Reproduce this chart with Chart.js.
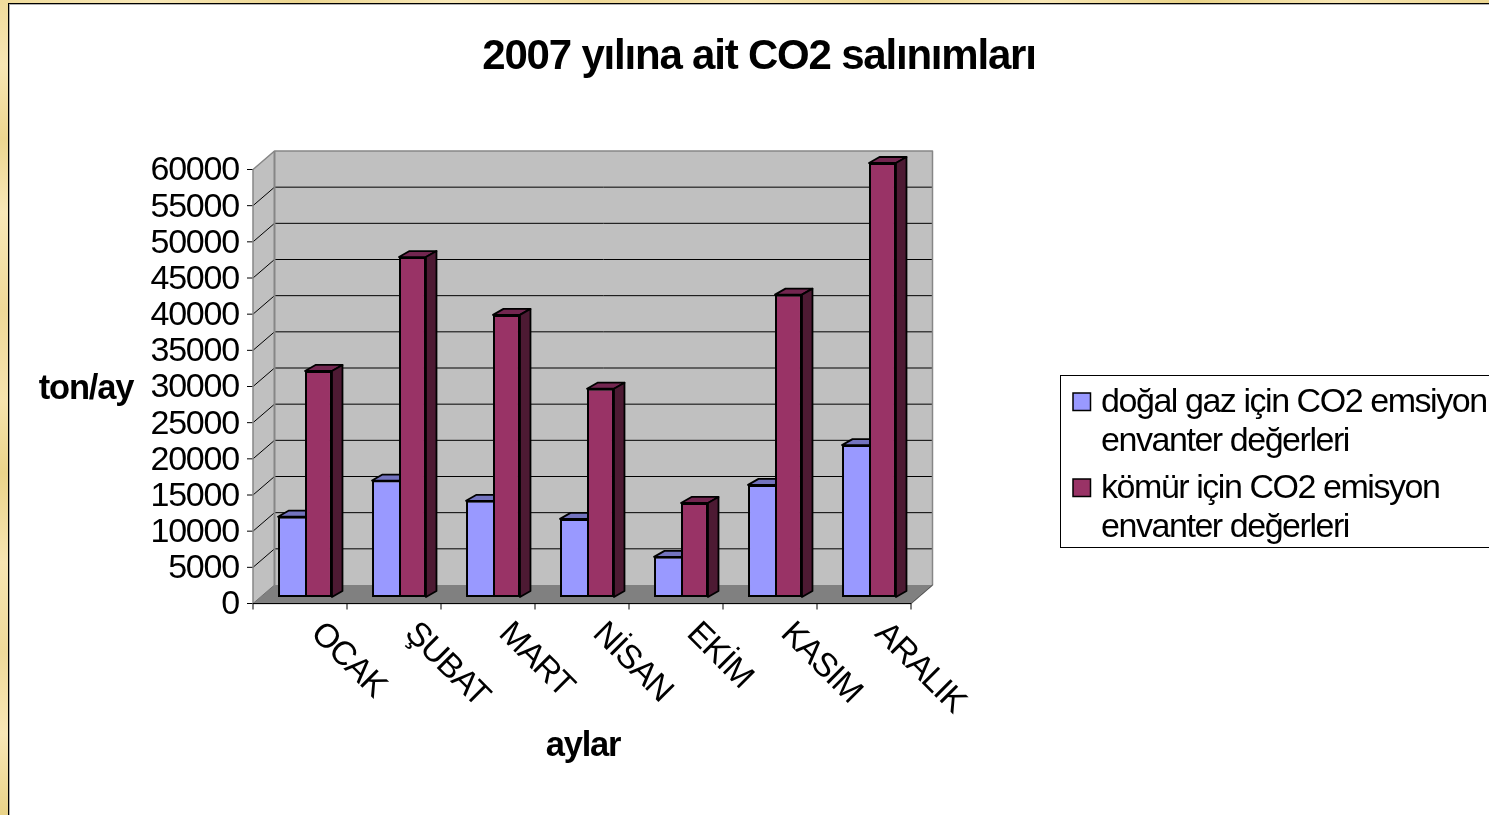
<!DOCTYPE html>
<html lang="tr">
<head>
  <meta charset="UTF-8">
  <title>2007 yılına ait CO2 salınımları</title>
  <style>
    html,body{margin:0;height:100%;overflow:hidden}
    body{position:relative;width:1489px;height:815px;
      background:linear-gradient(180deg,#f0dc9c 0,#f7e6b4 8%,#ecd690 17%,#f8e8b8 26%,#efd998 38%,#f6e3ae 49%,#ead48a 58%,#f7e5b2 69%,#efda9a 80%,#f8e7b6 90%,#e9d388 100%)}
    #top{position:absolute;left:0;top:0;width:100%;height:3px;
      background:linear-gradient(90deg,#f0dc9c,#f8e8b8,#ecd690,#f8e8b8,#efd998,#f7e5b2,#ecd690,#f8e7b6,#e9d388,#f7e6b4,#ecd690)}
    #panel{position:absolute;left:8px;top:3px;width:1500px;height:830px;background:#fff;box-sizing:border-box;
      border-left:1px solid #000;border-top:1px solid #000;box-shadow:inset 1px 1px 0 #b0b0b0}
    canvas{position:absolute;left:0;top:0}
  </style>
  <script src="https://cdn.jsdelivr.net/npm/chart.js"></script>
</head>
<body>
  <div id="top"></div>
  <div id="panel"></div>
  <canvas id="co2Chart" width="1489" height="815"></canvas>
  <script>
    const months = ['OCAK','ŞUBAT','MART','NİSAN','EKİM','KASIM','ARALIK'];
    const gasValues  = [11100,16100,13300,10800,5550,15500,21000];
    const coalValues = [31250,47000,39000,28800,13000,41800,60000];
    const gasLegend  = ['doğal gaz için CO2 emsiyon','envanter değerleri'];
    const coalLegend = ['kömür için CO2 emisyon','envanter değerleri'];

    const FONT = '"Liberation Sans", Arial, sans-serif';
    const BACK  = {x:16.5, y:-12};   // back wall relative to the bars' plane
    const FRONT = {x:-5, y:6.5};     // front edge of the floor
    const DEPTH = {x:10.5, y:-6};    // bar depth

    function poly(ctx, pts, fill, stroke, lw){
      ctx.beginPath();
      pts.forEach((p,i) => i ? ctx.lineTo(p[0],p[1]) : ctx.moveTo(p[0],p[1]));
      ctx.closePath();
      if(fill){ ctx.fillStyle = fill; ctx.fill(); }
      if(stroke){ ctx.strokeStyle = stroke; ctx.lineWidth = lw; ctx.stroke(); }
    }
    function line(ctx, x1,y1,x2,y2, color, lw){
      ctx.beginPath(); ctx.moveTo(x1,y1); ctx.lineTo(x2,y2);
      ctx.strokeStyle = color; ctx.lineWidth = lw; ctx.stroke();
    }

    // 3D walls, floor, grid and bar depth, all taken from the scales and bar elements
    const box3d = {
      id:'box3d',
      beforeDraw(chart){ chart.ctx.letterSpacing = '-1.2px'; },
      beforeDatasetsDraw(chart){
        const ctx = chart.ctx, a = chart.chartArea, yS = chart.scales.y, xS = chart.scales.x;
        const l = a.left, r = a.right, t = a.top, b = a.bottom;
        ctx.save();
        const bl = l+BACK.x, br = r+BACK.x, bt = t+BACK.y, bb = b+BACK.y;
        const fl = l+FRONT.x, fr = r+FRONT.x, ft = t+FRONT.y, fb = b+FRONT.y;
        poly(ctx, [[bl,bt],[br,bt],[br,bb],[bl,bb]], '#c0c0c0');
        poly(ctx, [[fl,ft],[bl,bt],[bl,bb],[fl,fb]], '#c0c0c0');
        poly(ctx, [[fl,fb],[bl,bb],[br,bb],[fr,fb]], '#808080');
        yS.ticks.forEach(tk => {
          const p = yS.getPixelForValue(tk.value);
          if(tk.value > 0 && tk.value < yS.max) line(ctx, bl,p+BACK.y, br,p+BACK.y, '#000', 1);
          if(tk.value > 0 && tk.value < yS.max) line(ctx, fl,p+FRONT.y, bl,p+BACK.y, '#000', 1);
          line(ctx, fl-6,p+FRONT.y, fl,p+FRONT.y, '#000', 1);
        });
        ctx.lineJoin = 'round';
        poly(ctx, [[fl,ft],[bl,bt],[br,bt],[br,bb],[fr,fb],[fl,fb]], null, '#868686', 1.5);
        line(ctx, bl,bt, bl,bb, '#868686', 2);
        line(ctx, fl,fb, bl,bb, '#707070', 1);
        line(ctx, fl,fb, fr,fb, '#000', 1.2);
        line(ctx, fr,fb, br,bb, '#555', 1);
        const w = (r-l)/xS.ticks.length;
        for(let k=0;k<=xS.ticks.length;k++) line(ctx, fl+k*w,fb, fl+k*w,fb+6, '#000', 1);
        const topCol = ['#7373bf','#732650'];
        chart.data.datasets.forEach((ds,i) => {
          chart.getDatasetMeta(i).data.forEach(bar => {
            const x1 = bar.x-bar.width/2, x2 = bar.x+bar.width/2, y = bar.y, y0 = bar.base;
            const dx = DEPTH.x, dy = DEPTH.y;
            poly(ctx, [[x1,y],[x1+dx,y+dy],[x2+dx,y+dy],[x2,y]], topCol[i], '#000', 1.8);
            // the gas bar's side is always hidden behind the taller coal bar
            if(i === 1) poly(ctx, [[x2,y],[x2+dx,y+dy],[x2+dx,y0+dy],[x2,y0]], '#4d1a33', '#000', 1.8);
          });
        });
        ctx.restore();
      },
      afterLayout(chart){
        chart.titleBlock.left = 29;
        chart.titleBlock.right = 1489;
      },
      afterDraw(chart){
        const ctx = chart.ctx;
        ctx.save();
        ctx.fillStyle = '#000'; ctx.textBaseline = 'middle';
        ctx.font = 'bold 34.5px '+FONT; ctx.textAlign = 'center';
        ctx.letterSpacing = '-1.2px';
        ctx.fillText('ton/ay', 86, 389);
        ctx.fillText('aylar', 583, 746);
        // legend box, runs off the right side like the reference
        ctx.strokeStyle = '#000'; ctx.lineWidth = 1;
        ctx.strokeRect(1060.5, 375.5, 500, 172);
        ctx.font = '34px '+FONT; ctx.textAlign = 'left';
        ctx.letterSpacing = '-1.45px';
        [[gasLegend,393,403,'#9999ff'],[coalLegend,479,489,'#993366']].forEach(([lines,sy,ty,col]) => {
          poly(ctx, [[1073,sy],[1090.5,sy],[1090.5,sy+17.5],[1073,sy+17.5]], col, '#000', 1.5);
          ctx.fillStyle = '#000';
          ctx.fillText(lines[0], 1101, ty);
          ctx.fillText(lines[1], 1101, ty+38.5);
        });
        ctx.restore();
      }
    };

    new Chart(document.getElementById('co2Chart'), {
      type:'bar',
      data:{
        labels:months,
        datasets:[
          {label:gasLegend.join(' '), data:gasValues, backgroundColor:'#9999ff', borderColor:'#000', borderWidth:2, borderSkipped:'right'},
          {label:coalLegend.join(' '), data:coalValues, backgroundColor:'#993366', borderColor:'#000', borderWidth:2, borderSkipped:false}
        ]
      },
      options:{
        responsive:false,
        animation:false,
        barPercentage:1,
        categoryPercentage:0.574,
        layout:{autoPadding:false, padding:{right:573}},
        scales:{
          x:{
            grid:{display:false},
            border:{display:false},
            afterFit(s){ s.height = 218; },
            afterDataLimits(s){ s._getXAxisLabelAlignment = () => 'left'; },
            ticks:{minRotation:-45, maxRotation:-45, autoSkip:false, padding:9, labelOffset:11, color:'#000', font:{family:FONT,size:33.5}}
          },
          y:{
            min:0, max:60000,
            grid:{display:false},
            border:{display:false},
            afterFit(s){ s.width = 258; },
            ticks:{stepSize:5000, autoSkip:false, padding:11, labelOffset:8, color:'#000', font:{family:FONT,size:34},
              callback:v => String(v)}
          }
        },
        plugins:{
          legend:{display:false},
          tooltip:{enabled:false},
          title:{display:true, text:'2007 yılına ait CO2 salınımları', color:'#000',
            font:{family:FONT,size:42,weight:'bold'}, padding:{top:32,bottom:80.6}}
        }
      },
      plugins:[box3d]
    });
  </script>
</body>
</html>
